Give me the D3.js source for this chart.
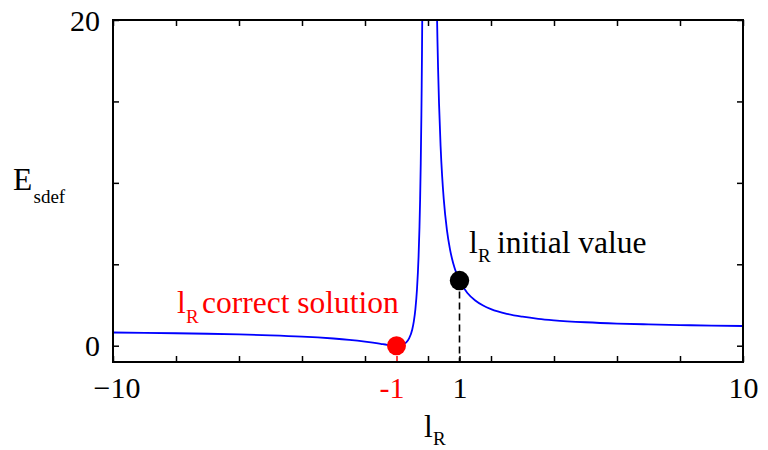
<!DOCTYPE html>
<html>
<head>
<meta charset="utf-8">
<script src="https://cdn.jsdelivr.net/npm/d3@7"></script>
<style>
  body { margin: 0; background: #fff; }
  svg text { font-family: "Liberation Serif", "DejaVu Serif", "Times New Roman", Times, serif !important; }
</style>
</head>
<body>
<svg id="chart" width="768" height="450"></svg>
<script>
// E_sdef against l_R: one branch on each side of the pole at l_R = 0
const leftLR  = [-10, -9, -8, -7, -6, -5, -4, -3.5, -3, -2.5, -2, -1.75, -1.5, -1.3, -1.15, -1,
                 -0.9, -0.8, -0.7, -0.6, -0.5, -0.45, -0.4, -0.35, -0.3, -0.27, -0.25, -0.23,
                 -0.21, -0.2, -0.19, -0.18, -0.17];
const leftE   = [0.81, 0.79, 0.766, 0.735, 0.694, 0.64, 0.563, 0.51, 0.444, 0.36, 0.25, 0.184, 0.111,
                 0.053, 0.017, 0, 0.012, 0.063, 0.184, 0.444, 1, 1.494, 2.25, 3.449, 5.444, 7.31, 9,
                 11.21, 14.15, 16, 18.18, 20.75, 23.84];
const rightLR = [0.26, 0.27, 0.28, 0.3, 0.32, 0.35, 0.4, 0.45, 0.5, 0.6, 0.7, 0.8, 0.9, 1, 1.25, 1.5,
                 1.75, 2, 2.5, 3, 3.5, 4, 5, 6, 7, 8, 9, 10];
const rightE  = [23.49, 22.13, 20.9, 18.78, 17.02, 14.88, 12.25, 10.38, 9, 7.11, 5.9, 5.06, 4.46, 4,
                 3.24, 2.78, 2.47, 2.25, 1.96, 1.78, 1.65, 1.56, 1.44, 1.36, 1.31, 1.27, 1.23, 1.21];

// axes
const xDomain = [-10, 10];
const yDomain = [-1, 20];
const xTickValues = [-10, -8, -6, -4, -2, 0, 2, 4, 6, 8, 10];
const xMarkedTicks = [-1, 1];
const xTickLabels = { "-10": "\u221210", "-1": "-1", "1": "1", "10": "10" };
const yTickValues = [0, 5, 10, 15, 20];
const yTickLabels = { "0": "0", "20": "20" };

// highlighted points
const solutionPoint = { lR: -1, E: 0 };
const initialPoint  = { lR: 1, E: 4 };

const SERIF = "'Liberation Serif', 'DejaVu Serif', 'Times New Roman', Times, serif";
const svg = d3.select("#chart");
const W = 768, H = 450;
const m = { left: 113, right: 25, top: 20, bottom: 88 };
const x = d3.scaleLinear().domain(xDomain).range([m.left, W - m.right]);
const y = d3.scaleLinear().domain(yDomain).range([H - m.bottom, m.top]);

const FS = 30, FS_NOTE = 31.5, SUB = 19, TICK = 6;

svg.append("defs").append("clipPath").attr("id", "plotClip")
  .append("rect")
  .attr("x", x(xDomain[0])).attr("y", y(yDomain[1]))
  .attr("width", x(xDomain[1]) - x(xDomain[0]))
  .attr("height", y(yDomain[0]) - y(yDomain[1]));

function styleAxis(g) {
  g.attr("font-family", SERIF);
  g.select(".domain").remove();
  g.selectAll(".tick line").attr("stroke", "#000").attr("stroke-width", 1.5);
  g.selectAll("text").attr("font-size", FS).attr("fill", "#000").style("font-family", SERIF);
}

// bottom axis: even ticks plus the two marked positions
const bottomVals = xTickValues.concat(xMarkedTicks).sort((a, b) => a - b);
const gBottom = svg.append("g")
  .attr("transform", `translate(0,${y(yDomain[0])})`)
  .call(d3.axisBottom(x).tickValues(bottomVals).tickSizeInner(-TICK).tickSizeOuter(0)
    .tickFormat(d => xTickLabels[String(d)] || ""));
styleAxis(gBottom);
gBottom.selectAll(".tick text").attr("y", 36).attr("dy", 0);
gBottom.selectAll(".tick").filter(d => d === -10).select("text").attr("dx", 3.5);
gBottom.selectAll(".tick").filter(d => d === -1).select("text").attr("dx", -5).attr("fill", "#ff0000");
gBottom.selectAll(".tick").filter(d => d === -1).select("line").attr("stroke", "#ff0000");

// top axis
const gTop = svg.append("g")
  .attr("transform", `translate(0,${y(yDomain[1])})`)
  .call(d3.axisTop(x).tickValues(xTickValues).tickSizeInner(-TICK).tickSizeOuter(0).tickFormat(""));
styleAxis(gTop);

// left axis
const gLeft = svg.append("g")
  .attr("transform", `translate(${x(xDomain[0])},0)`)
  .call(d3.axisLeft(y).tickValues(yTickValues).tickSizeInner(-TICK).tickSizeOuter(0)
    .tickPadding(13).tickFormat(d => yTickLabels[String(d)] || ""));
styleAxis(gLeft);
gLeft.selectAll(".tick text").attr("dy", "0.34em");

// right axis
const gRight = svg.append("g")
  .attr("transform", `translate(${x(xDomain[1])},0)`)
  .call(d3.axisRight(y).tickValues(yTickValues).tickSizeInner(-TICK).tickSizeOuter(0).tickFormat(""));
styleAxis(gRight);

// curve branches
const line = d3.line().x(d => x(d[0])).y(d => y(d[1])).curve(d3.curveMonotoneX);
const plot = svg.append("g").attr("clip-path", "url(#plotClip)");
[[leftLR, leftE], [rightLR, rightE]].forEach(([xs, ys]) => {
  plot.append("path")
    .datum(xs.map((v, i) => [v, ys[i]]))
    .attr("d", line)
    .attr("fill", "none")
    .attr("stroke", "#0000ff")
    .attr("stroke-width", 1.8);
});

// frame
svg.append("rect")
  .attr("x", x(xDomain[0])).attr("y", y(yDomain[1]))
  .attr("width", x(xDomain[1]) - x(xDomain[0]))
  .attr("height", y(yDomain[0]) - y(yDomain[1]))
  .attr("fill", "none").attr("stroke", "#000").attr("stroke-width", 2);

// dashed drop line under the starting point
svg.append("line")
  .attr("x1", x(initialPoint.lR)).attr("x2", x(initialPoint.lR))
  .attr("y1", y(initialPoint.E)).attr("y2", y(yDomain[0]))
  .attr("stroke", "#000").attr("stroke-width", 1.6).attr("stroke-dasharray", "7,4");

// markers
svg.append("circle").attr("cx", x(solutionPoint.lR)).attr("cy", y(solutionPoint.E))
  .attr("r", 9.5).attr("fill", "#ff0000");
svg.append("circle").attr("cx", x(initialPoint.lR)).attr("cy", y(initialPoint.E))
  .attr("r", 9.7).attr("fill", "#000");

// text with a subscript piece
function subText(xMain, yBase, main, sub, subDx, subDy, rest, restX, color, size) {
  const g = svg.append("g").attr("fill", color).attr("font-family", SERIF);
  g.append("text").attr("x", xMain).attr("y", yBase).attr("font-size", size)
    .style("font-family", SERIF).text(main);
  g.append("text").attr("x", xMain + subDx).attr("y", yBase + subDy).attr("font-size", SUB)
    .style("font-family", SERIF).text(sub);
  if (rest) g.append("text").attr("x", restX).attr("y", yBase).attr("font-size", size)
    .style("font-family", SERIF).text(rest);
}

subText(13, 190, "E", "sdef", 20.5, 13, null, 0, "#000", FS_NOTE);
subText(424, 437, "l", "R", 9, 8, null, 0, "#000", FS_NOTE);
subText(177, 313, "l", "R", 9, 10, "correct solution", 202, "#ff0000", FS_NOTE);
subText(469, 253, "l", "R", 9, 9, "initial value", 497, "#000", FS_NOTE);
</script>
</body>
</html>
